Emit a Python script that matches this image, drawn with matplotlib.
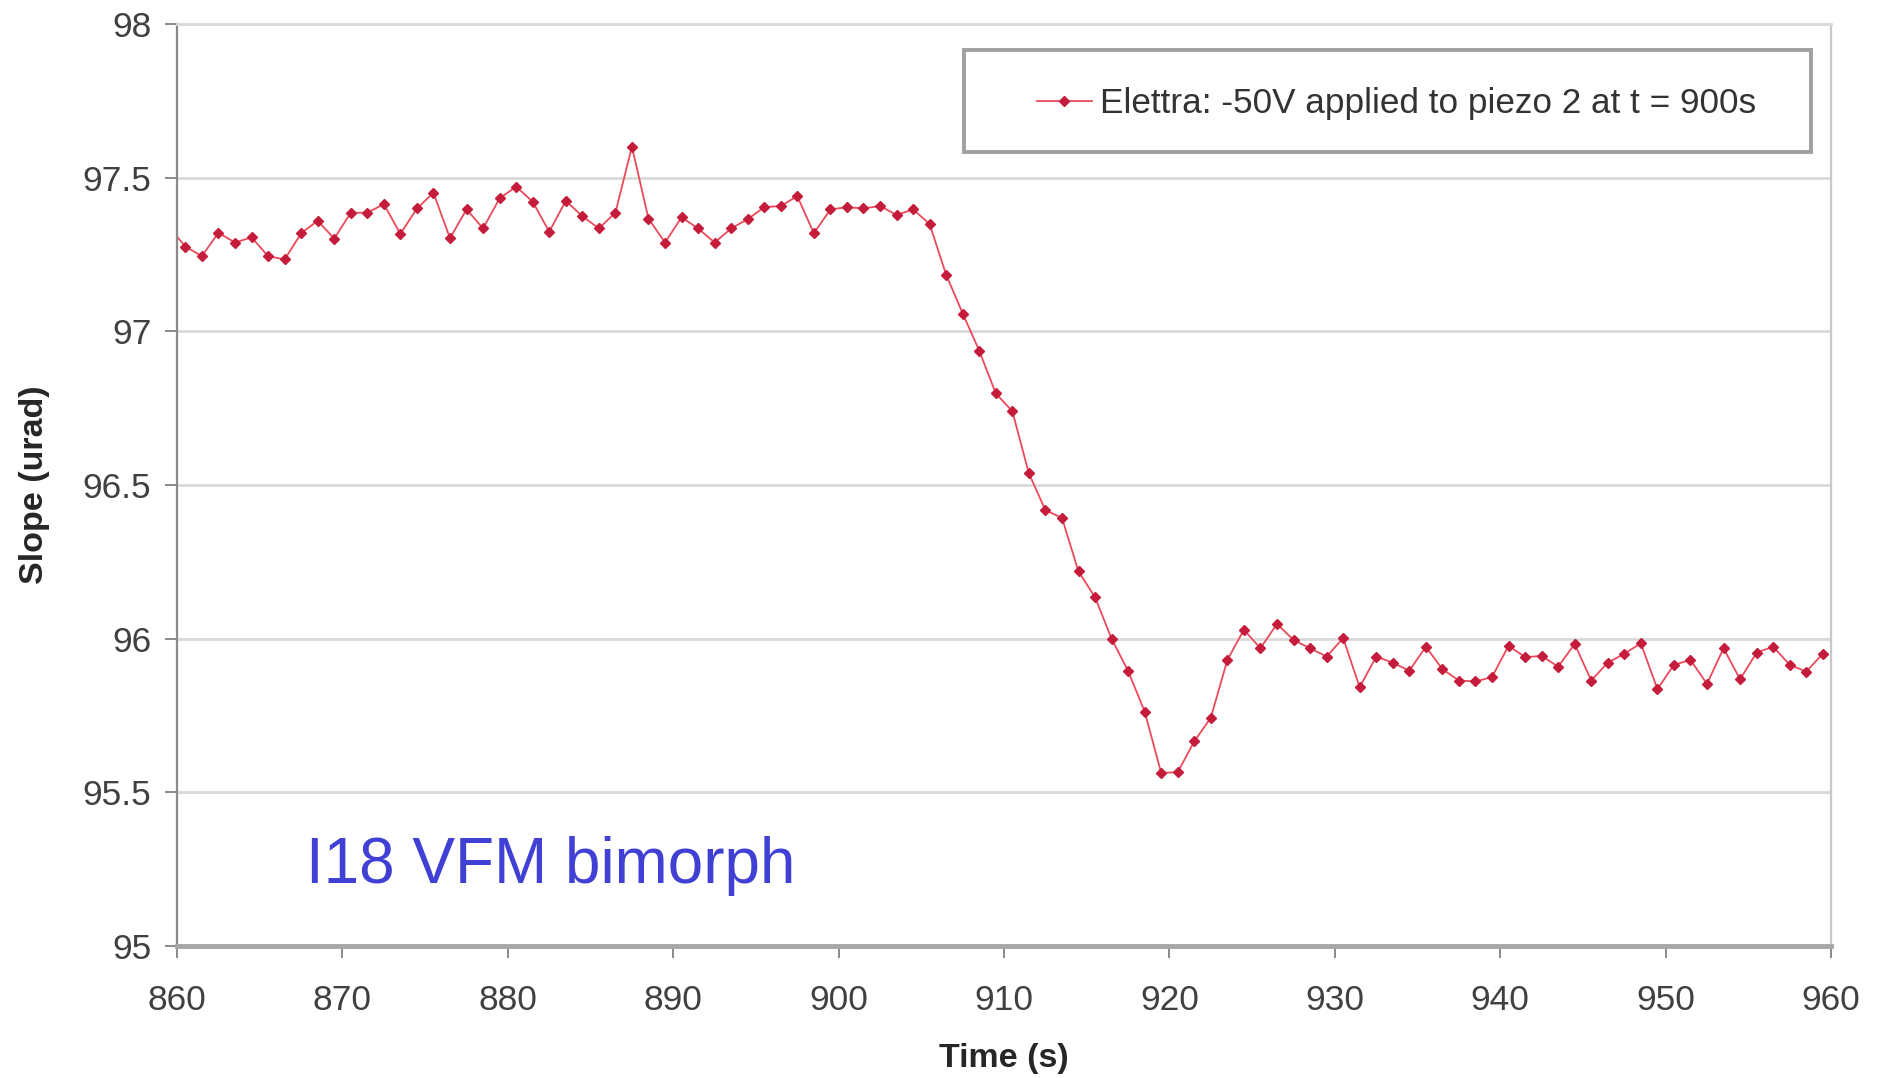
"""
Slope vs time for the I18 VFM bimorph after a -50V step on piezo 2.
"""

import numpy as np
import matplotlib
matplotlib.use('Agg')
import matplotlib.pyplot as plt
from matplotlib.patches import Rectangle

plt.rcParams['font.family'] = ['Liberation Sans', 'DejaVu Sans']

# Sample times (s), 1 s sampling; first sample sits just left of the axis
time_s = np.arange(859.5, 960.0, 1.0)

slope_urad = [
    97.34,
    97.276, 97.245, 97.321, 97.289, 97.306, 97.245, 97.234, 97.319, 97.360, 97.302,
    97.386, 97.386, 97.414, 97.317, 97.400, 97.451, 97.303, 97.397, 97.335, 97.433,
    97.471, 97.422, 97.324, 97.425, 97.375, 97.335, 97.386, 97.601, 97.367, 97.289,
    97.371, 97.335, 97.289, 97.335, 97.365, 97.404, 97.408, 97.440, 97.319, 97.397,
    97.404, 97.400, 97.408, 97.379, 97.397, 97.349, 97.184, 97.058, 96.937, 96.798,
    96.740, 96.538, 96.418, 96.393, 96.219, 96.135, 96.000, 95.895, 95.763, 95.563,
    95.566, 95.666, 95.743, 95.931, 96.029, 95.969, 96.048, 95.996, 95.969, 95.942,
    96.002, 95.842, 95.942, 95.922, 95.896, 95.974, 95.901, 95.864, 95.861, 95.875,
    95.977, 95.940, 95.944, 95.909, 95.983, 95.864, 95.922, 95.951, 95.985, 95.836,
    95.915, 95.931, 95.853, 95.969, 95.868, 95.955, 95.974, 95.915, 95.893, 95.951,
]

x_ticks = [860, 870, 880, 890, 900, 910, 920, 930, 940, 950, 960]
y_ticks = [95, 95.5, 96, 96.5, 97, 97.5, 98]
y_tick_labels = ['95', '95.5', '96', '96.5', '97', '97.5', '98']

legend_label = 'Elettra: -50V applied to piezo 2 at t = 900s'
note_text = 'I18 VFM bimorph'

fig = plt.figure(figsize=(18.78, 10.78), dpi=100)
ax = fig.add_axes([0.0943, 0.1224, 0.8807, 0.8553])

ax.plot(time_s, slope_urad, color='#ea4a5a', linewidth=1.3,
        marker='D', markersize=4.8, markerfacecolor='#c41c3a',
        markeredgecolor='#c41c3a', label=legend_label)

ax.set_xlim(860, 960)
ax.set_ylim(95, 98)
ax.set_xticks(x_ticks)
ax.set_yticks(y_ticks)
ax.set_yticklabels(y_tick_labels)

# Excel-like horizontal gridlines only
ax.yaxis.grid(True, color='#d9d9d9', linewidth=2)
ax.set_axisbelow(True)

ax.spines['left'].set_color('#8a8a8a')
ax.spines['left'].set_linewidth(1.6)
ax.spines['bottom'].set_color('#a6a6a6')
ax.spines['bottom'].set_linewidth(3.5)
ax.spines['right'].set_color('#c8c8c8')
ax.spines['right'].set_linewidth(1.6)
ax.spines['top'].set_color('#d9d9d9')
ax.spines['top'].set_linewidth(2)

ax.tick_params(axis='both', direction='out', length=8.5, width=1.4,
               color='#8a8a8a', labelsize=25.5, labelcolor='#404040')
ax.tick_params(axis='y', pad=10)
ax.tick_params(axis='x', pad=19)

ax.set_xlabel('Time (s)', fontsize=24.5, fontweight='bold', color='#262626')
ax.set_ylabel('Slope (urad)', fontsize=24.5, fontweight='bold', color='#262626')
ax.xaxis.set_label_coords(0.5, -0.105)
ax.yaxis.set_label_coords(-0.0768, 0.5)

# Legend entry without its own frame; the wide box is drawn separately
leg = ax.legend(loc='center left', bbox_to_anchor=(0.52, 0.914),
                fontsize=25.3, frameon=False,
                handlelength=1.55, handletextpad=0.25,
                borderpad=0, borderaxespad=0)
for txt in leg.get_texts():
    txt.set_color('#333333')
ax.add_patch(Rectangle((0.476, 0.861), 0.512, 0.111, transform=ax.transAxes,
                       facecolor='white', edgecolor='#a0a0a0', linewidth=2.8,
                       zorder=4))
leg.set_zorder(5)

ax.text(867.8, 95.206, note_text, fontsize=46, color='#4040d4',
        va='baseline', ha='left')

fig.savefig('out.png', dpi=100)
